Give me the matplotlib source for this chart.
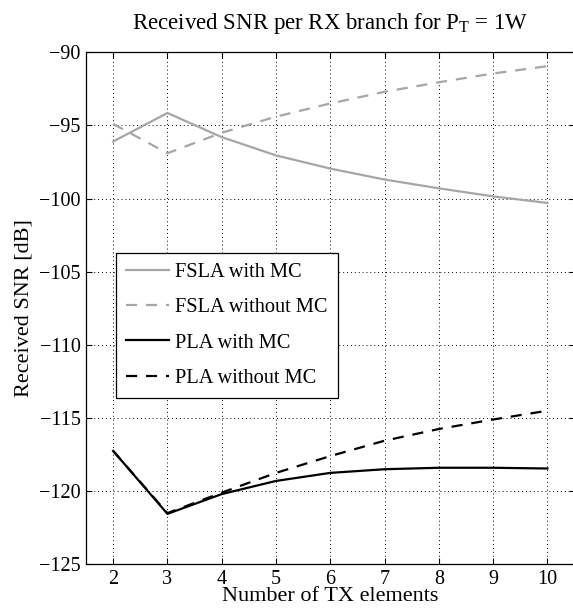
"""Received SNR per RX branch vs number of TX elements."""

import matplotlib
matplotlib.use("Agg")
import matplotlib.pyplot as plt

N_TX = [2, 3, 4, 5, 6, 7, 8, 9, 10]
FSLA_MC = [-96.1, -94.15, -95.8, -97.05, -97.95, -98.7, -99.3, -99.85, -100.3]
FSLA_NO_MC = [-94.9, -96.9, -95.5, -94.4, -93.5, -92.7, -92.05, -91.45, -90.95]
PLA_MC = [-117.25, -121.55, -120.2, -119.3, -118.75, -118.5, -118.4, -118.4, -118.45]
PLA_NO_MC = [-117.25, -121.5, -120.1, -118.75, -117.6, -116.55, -115.75, -115.1, -114.5]

GRAY = "#A6A6A6"

plt.rcParams.update({
    "font.family": "serif",
    "font.serif": ["Liberation Serif", "DejaVu Serif"],
    "mathtext.fontset": "custom",
    "mathtext.rm": "Liberation Serif",
    "mathtext.it": "Liberation Serif",
    "font.size": 15,
})

fig = plt.figure(figsize=(5.73, 6.15), dpi=100)
ax = fig.add_axes([0.1501, 0.0824, 0.8527, 0.8326])

ax.plot(N_TX, FSLA_MC, color=GRAY, lw=1.6, label="FSLA with MC")
ax.plot(N_TX, FSLA_NO_MC, color=GRAY, lw=1.6, ls=(0, (5, 4)), label="FSLA without MC")
ax.plot(N_TX, PLA_MC, color="black", lw=1.6, label="PLA with MC")
ax.plot(N_TX, PLA_NO_MC, color="black", lw=1.6, ls=(0, (5, 4)), label="PLA without MC")

ax.set_xlim(1.5, 10.5)
ax.set_ylim(-125, -90)
ax.set_xticks(N_TX)
ax.set_yticks(range(-125, -89, 5))
ax.set_yticklabels([f"\u2212{abs(v)}" for v in range(-125, -89, 5)])
ax.grid(True, ls=(0, (1, 3)), lw=0.7, color="black")
ax.tick_params(direction="in", length=4, width=0.8, top=True, right=True,
               labelsize=14.5, pad=4)
for s in ax.spines.values():
    s.set_linewidth(0.9)

ax.set_xlabel("Number of TX elements", fontsize=16, labelpad=-1)
ax.set_ylabel("Received SNR [dB]", fontsize=16, labelpad=4)
ax.set_title("Received SNR per RX branch for P$_\\mathrm{T}$ = 1W", fontsize=16.5, pad=17)

leg = ax.legend(loc="lower left", bbox_to_anchor=(0.0614, 0.3248), borderaxespad=0,
                fancybox=False, edgecolor="black", framealpha=1, fontsize=14.7,
                handlelength=2.1, handletextpad=0.3, labelspacing=0.78,
                borderpad=0.5)
leg.get_frame().set_linewidth(0.9)

fig.savefig("out.png", dpi=100, facecolor="white")
